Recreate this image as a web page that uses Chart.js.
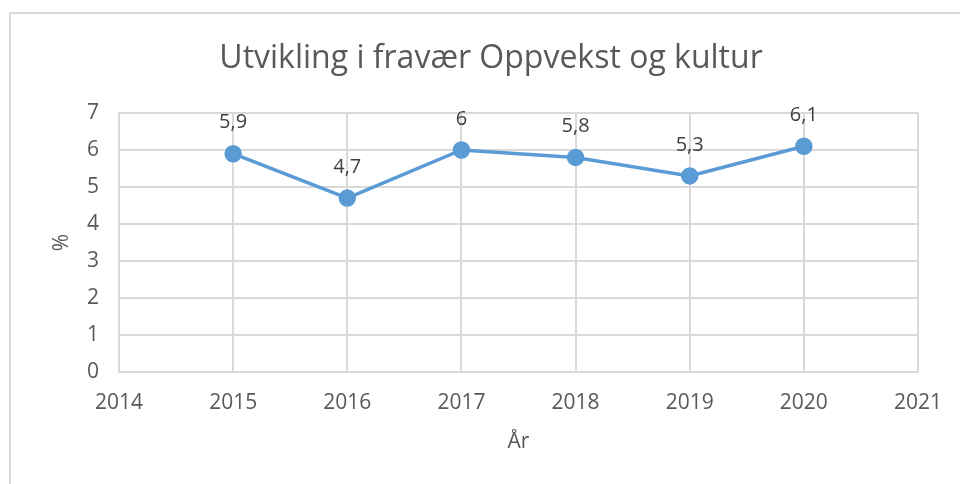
<!DOCTYPE html>
<html>
<head>
<meta charset="utf-8">
<script src="https://cdn.jsdelivr.net/npm/chart.js@4/dist/chart.umd.min.js"></script>
<style>
  body { margin: 0; background: #fff; }
  #wrap { width: 960px; height: 484px; position: relative; }
</style>
</head>
<body>
<div id="wrap"><canvas id="chart" width="960" height="484"></canvas></div>
<script>
const years = [2015, 2016, 2017, 2018, 2019, 2020];
const fravaer = [5.9, 4.7, 6, 5.8, 5.3, 6.1];
const xRange = [2014, 2021];
const yRange = [0, 7];
const chartTitle = 'Utvikling i fravær Oppvekst og kultur';

const font = "'Open Sans', 'Noto Sans', sans-serif";
const textColor = '#595959';
const gridColor = '#d9d9d9';

// outer frame and title, centred on the frame like in Excel
const framePlugin = {
  id: 'frame',
  beforeDraw(chart) {
    const ctx = chart.ctx;
    ctx.save();
    ctx.fillStyle = '#fff';
    ctx.fillRect(0, 0, chart.width, chart.height);
    ctx.strokeStyle = gridColor;
    ctx.lineWidth = 2;
    ctx.strokeRect(10, 13, chart.width, chart.height);
    ctx.font = '32px ' + font;
    ctx.fillStyle = textColor;
    ctx.textAlign = 'center';
    ctx.textBaseline = 'middle';
    ctx.fillText(chartTitle, 491, 59);
    ctx.restore();
  }
};

// value labels above points, decimal comma
const labelPlugin = {
  id: 'valueLabels',
  afterDatasetsDraw(chart) {
    const ctx = chart.ctx;
    const meta = chart.getDatasetMeta(0);
    ctx.save();
    ctx.font = '20px ' + font;
    ctx.fillStyle = '#404040';
    ctx.textAlign = 'center';
    ctx.textBaseline = 'middle';
    meta.data.forEach((pt, i) => {
      const v = chart.data.datasets[0].data[i].y;
      ctx.fillText(String(v).replace('.', ','), pt.x, pt.y - 31);
    });
    ctx.restore();
  }
};

new Chart(document.getElementById('chart'), {
  type: 'line',
  data: {
    datasets: [{
      data: years.map((y, i) => ({ x: y, y: fravaer[i] })),
      borderColor: '#5b9bd5',
      backgroundColor: '#5b9bd5',
      borderWidth: 3.5,
      pointRadius: 7,
      pointBackgroundColor: '#5b9bd5',
      pointBorderColor: '#5b9bd5',
      tension: 0
    }]
  },
  options: {
    responsive: false,
    animation: false,
    layout: { padding: { left: 44, right: 42, top: 113, bottom: 29 } },
    scales: {
      x: {
        type: 'linear',
        min: xRange[0], max: xRange[1],
        ticks: {
          stepSize: 1, color: textColor, font: { family: font, size: 21 },
          padding: 18,
          callback: v => String(v)
        },
        grid: { color: gridColor, lineWidth: 2, drawTicks: false },
        border: { color: gridColor, width: 2 },
        title: { display: true, text: 'År', color: textColor, font: { family: font, size: 21 }, padding: 0 },
        afterFit: s => { s.height = 83; }
      },
      y: {
        min: yRange[0], max: yRange[1],
        ticks: { stepSize: 1, color: textColor, font: { family: font, size: 21 }, padding: 20 },
        grid: { color: gridColor, lineWidth: 2, drawTicks: false },
        border: { color: gridColor, width: 2 },
        title: { display: true, text: '%', color: textColor, font: { family: font, size: 21 }, padding: { top: 5, bottom: 0 } },
        afterFit: s => { s.width = 75; }
      }
    },
    plugins: {
      legend: { display: false },
      tooltip: { enabled: false },
      title: { display: false }
    }
  },
  plugins: [framePlugin, labelPlugin]
});
</script>
</body>
</html>
